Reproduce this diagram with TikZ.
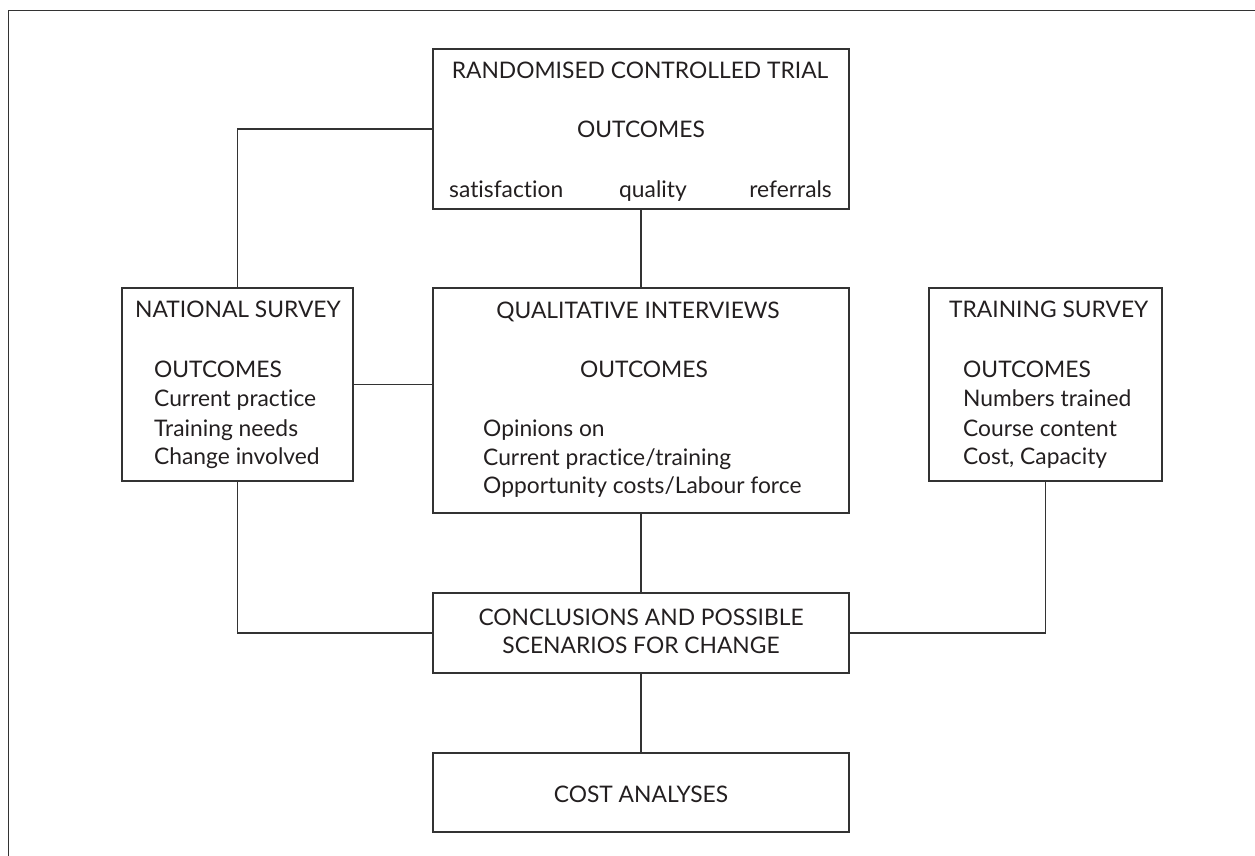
\documentclass[tikz,border=0pt]{standalone}
\usepackage{fontspec}
\setmainfont[Ligatures={NoCommon}]{Lato}
\definecolor{ink}{HTML}{231F20}
\definecolor{rule}{HTML}{333333}
\begin{document}
\begin{tikzpicture}[x=1pt,y=-1pt,
  box/.style={draw=rule,line width=1.2pt,rectangle,inner sep=0pt},
  conn/.style={draw=rule,line width=1.2pt},
  txt/.style={inner sep=0pt,text=ink,font=\fontsize{22.8}{22.8}\selectfont}]
\useasboundingbox (0,0) rectangle (1255,856);
% outer frame (cut off at right and bottom)
\draw[rule,line width=1.6pt] (8.5,856) -- (8.5,10.5) -- (1255,10.5);
% boxes
\node[box,minimum width=416pt,minimum height=160pt] (rct) at (641,129) {};
\node[box,minimum width=231pt,minimum height=193pt] (ns) at (237.5,384.5) {};
\node[box,minimum width=416pt,minimum height=225pt] (qi) at (641,400.5) {};
\node[box,minimum width=233pt,minimum height=193pt] (ts) at (1045.5,384.5) {};
\node[box,minimum width=416pt,minimum height=80pt] (con) at (641,633) {};
\node[box,minimum width=416pt,minimum height=79pt] (cost) at (641,792.5) {};
% connectors
\draw[conn] (ns.north) |- (rct.west);
\draw[conn] (ns.east) -- (ns.east -| qi.west);
\draw[conn] (rct.south) -- (qi.north);
\draw[conn] (qi.south) -- (con.north);
\draw[conn] (ns.south) |- (con.west);
\draw[conn] (ts.south) |- (con.east);
\draw[conn] (con.south) -- (cost.north);
% RCT texts
\node[txt,anchor=base] (rct1) at (640,79) {RANDOMISED CONTROLLED TRIAL};
\node[txt,anchor=base] (rct2) at (641,138) {OUTCOMES};
\node[txt,anchor=base west] (rct3) at (449,197) {satisfaction};
\node[txt,anchor=base] (rct4) at (653,197) {quality};
\node[txt,anchor=base east] (rct5) at (832,197) {referrals};
% NS texts
\node[txt,anchor=base] (ns1) at (238,317) {NATIONAL SURVEY};
\node[txt,anchor=base west] (ns2) at (154,377) {OUTCOMES};
\node[txt,anchor=base west] (ns3) at (154,406) {Current practice};
\node[txt,anchor=base west] (ns4) at (154,436) {Training needs};
\node[txt,anchor=base west] (ns5) at (154,464) {Change involved};
% QI texts
\node[txt,anchor=base] (qi1) at (638,318) {QUALITATIVE INTERVIEWS};
\node[txt,anchor=base] (qi2) at (644,377) {OUTCOMES};
\node[txt,anchor=base west] (qi3) at (483,436) {Opinions on};
\node[txt,anchor=base west] (qi4) at (483,465) {Current practice/training};
\node[txt,anchor=base west] (qi5) at (483,493) {Opportunity costs/Labour force};
% TS texts
\node[txt,anchor=base west] (ts1) at (949,317) {TRAINING SURVEY};
\node[txt,anchor=base west] (ts2) at (963,377) {OUTCOMES};
\node[txt,anchor=base west] (ts3) at (963,406) {Numbers trained};
\node[txt,anchor=base west] (ts4) at (963,436) {Course content};
\node[txt,anchor=base west] (ts5) at (963,464) {Cost, Capacity};
% conclusions
\node[txt,anchor=base] (con1) at (641,625) {CONCLUSIONS AND POSSIBLE};
\node[txt,anchor=base] (con2) at (641,653) {SCENARIOS FOR CHANGE};
% cost
\node[txt,anchor=base] (cost1) at (641,802) {COST ANALYSES};
\end{tikzpicture}
\end{document}
